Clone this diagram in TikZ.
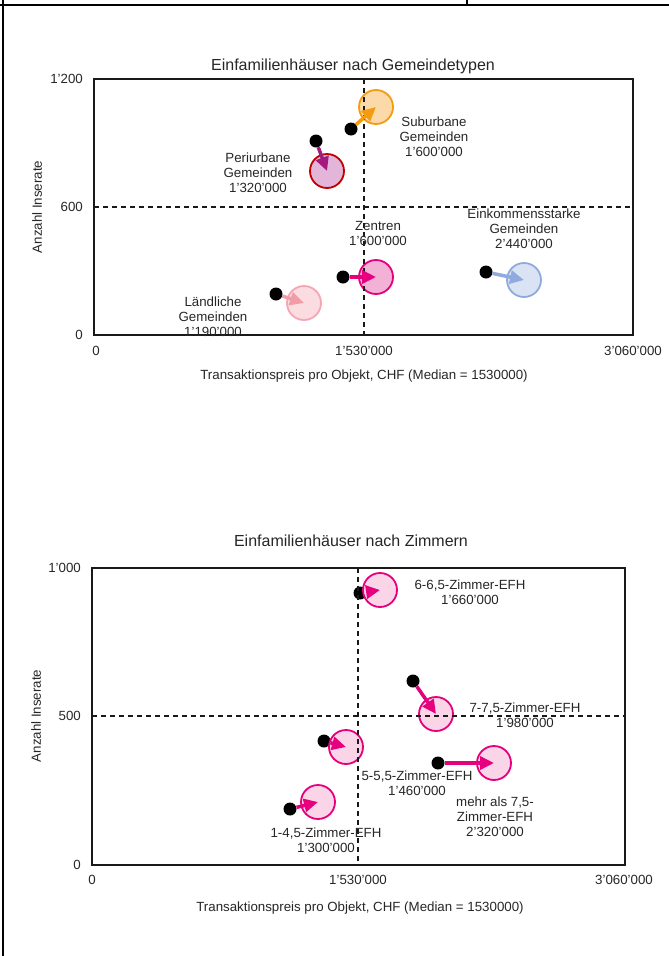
\documentclass[tikz,border=0pt]{standalone}
\usepackage{fontspec}
\setmainfont{Liberation Sans}
\usetikzlibrary{arrows.meta}
\definecolor{txt}{HTML}{262626}
\definecolor{orB}{HTML}{F39C12}
\definecolor{orF}{HTML}{FCD9A8}
\definecolor{peB}{HTML}{C00000}
\definecolor{peF}{HTML}{E3B5D9}
\definecolor{peA}{HTML}{A3197F}
\definecolor{mgB}{HTML}{E6007E}
\definecolor{zeF}{HTML}{F3B1D5}
\definecolor{laB}{HTML}{F4A6B2}
\definecolor{laF}{HTML}{FADCE1}
\definecolor{laA}{HTML}{F29CA8}
\definecolor{blB}{HTML}{8FAADC}
\definecolor{blF}{HTML}{DAE3F3}
\definecolor{pkF}{HTML}{F9D5E7}
\begin{document}
\begin{tikzpicture}[x=1pt,y=-1pt,
  lbl/.style={font=\fontsize{13.3}{15}\selectfont, text=txt, inner sep=0pt, align=center},
  ttl/.style={font=\fontsize{16}{18}\selectfont, text=txt, inner sep=0pt},
  tickl/.style={font=\fontsize{13.3}{15}\selectfont, text=txt, inner sep=0pt},
  blackdot/.style={circle, fill=black, minimum size=13pt, inner sep=0pt},
  bub/.style={circle, minimum size=34pt, inner sep=0pt, line width=1.8pt},
  arr/.style={line width=3.5pt, -{Triangle[length=14pt,width=13pt]}},
  frame/.style={line width=2pt, draw=black!90},
  medline/.style={line width=1.3pt, dash pattern=on 5pt off 4pt, draw=black!90}]
\useasboundingbox (0,0) rectangle (669,956);
% outer frame
\draw[line width=2pt] (0,5) -- (669,5);
\draw[line width=2pt] (3,0) -- (3,956);
\draw[line width=1.5pt] (467,0) -- (467,5);

% ---------- chart 1 ----------
\node[ttl] (t1) at (353,66) {Einfamilienhäuser nach Gemeindetypen};
\draw[frame] (94,79) rectangle (633,335);
\node[tickl, anchor=east] (y1a) at (83,79) {1'200};
\node[tickl, anchor=east] (y1b) at (83,207) {600};
\node[tickl, anchor=east] (y1c) at (83,335) {0};
\node[tickl] (x1a) at (96,351) {0};
\node[tickl] (x1b) at (364,351) {1'530'000};
\node[tickl] (x1c) at (633,351) {3'060'000};
\node[tickl, rotate=90] (ya1) at (37,207) {Anzahl Inserate};
\node[tickl] (xa1) at (364,376) {Transaktionspreis pro Objekt, CHF (Median = 1530000)};

% points chart 1
\node[blackdot] (d1) at (351,129) {};
\node[blackdot] (d2) at (316,141) {};
\node[blackdot] (d3) at (343,277) {};
\node[blackdot] (d4) at (276,294) {};
\node[blackdot] (d5) at (486,272) {};
\node[bub, draw=orB, fill=orF] (b1) at (376,107) {};
\node[bub, draw=peB, fill=peF] (b2) at (327,171) {};
\node[bub, draw=mgB, fill=zeF] (b3) at (376,277) {};
\node[bub, draw=laB, fill=laF] (b4) at (304,303) {};
\node[bub, draw=blB, fill=blF] (b5) at (524,280) {};
\draw[medline] (94,207) -- (633,207);
\draw[medline] (364,79) -- (364,335);
\draw[arr, orB] (d1) -- (b1.center);
\draw[arr, peA] (d2) -- (b2.center);
\draw[arr, mgB] (d3) -- (b3.center);
\draw[arr, laA] (d4) -- (b4.center);
\draw[arr, blB] (d5) -- (b5.center);
\node[lbl] (l1) at (434,137) {Suburbane\\Gemeinden\\1'600'000};
\node[lbl] (l2) at (258,173) {Periurbane\\Gemeinden\\1'320'000};
\node[lbl] (l3) at (378,233) {Zentren\\1'600'000};
\node[lbl] (l4) at (213,317) {Ländliche\\Gemeinden\\1'190'000};
\node[lbl] (l5) at (524,229) {Einkommensstarke\\Gemeinden\\2'440'000};

% ---------- chart 2 ----------
\node[ttl] (t2) at (351,541) {Einfamilienhäuser nach Zimmern};
\draw[frame] (92,568) rectangle (625,865);
\node[tickl, anchor=east] (y2a) at (81,568) {1'000};
\node[tickl, anchor=east] (y2b) at (81,716) {500};
\node[tickl, anchor=east] (y2c) at (81,865) {0};
\node[tickl] (x2a) at (92,880) {0};
\node[tickl] (x2b) at (358,880) {1'530'000};
\node[tickl] (x2c) at (624,880) {3'060'000};
\node[tickl, rotate=90] (ya2) at (36,716) {Anzahl Inserate};
\node[tickl] (xa2) at (360,908) {Transaktionspreis pro Objekt, CHF (Median = 1530000)};

\node[blackdot] (e1) at (360,593) {};
\node[blackdot] (e2) at (413,681) {};
\node[blackdot] (e3) at (324,741) {};
\node[blackdot] (e4) at (438,763) {};
\node[blackdot] (e5) at (290,809) {};
\node[bub, draw=mgB, fill=pkF] (c1) at (380,590) {};
\node[bub, draw=mgB, fill=pkF] (c2) at (436,714) {};
\node[bub, draw=mgB, fill=pkF] (c3) at (346,747) {};
\node[bub, draw=mgB, fill=pkF] (c4) at (494,763) {};
\node[bub, draw=mgB, fill=pkF] (c5) at (318,802) {};
\draw[medline] (92,716) -- (625,716);
\draw[medline] (358,568) -- (358,865);
\draw[arr, mgB] (e1) -- (c1.center);
\draw[arr, mgB] (e2) -- (c2.center);
\draw[arr, mgB] (e3) -- (c3.center);
\draw[arr, mgB] (e4) -- (c4.center);
\draw[arr, mgB] (e5) -- (c5.center);
\node[lbl] (m1) at (470,592) {6-6,5-Zimmer-EFH\\1'660'000};
\node[lbl] (m2) at (525,715) {7-7,5-Zimmer-EFH\\1'980'000};
\node[lbl] (m3) at (417,783) {5-5,5-Zimmer-EFH\\1'460'000};
\node[lbl] (m4) at (495,817) {mehr als 7,5-\\Zimmer-EFH\\2'320'000};
\node[lbl] (m5) at (326,840) {1-4,5-Zimmer-EFH\\1'300'000};
\end{tikzpicture}
\end{document}
